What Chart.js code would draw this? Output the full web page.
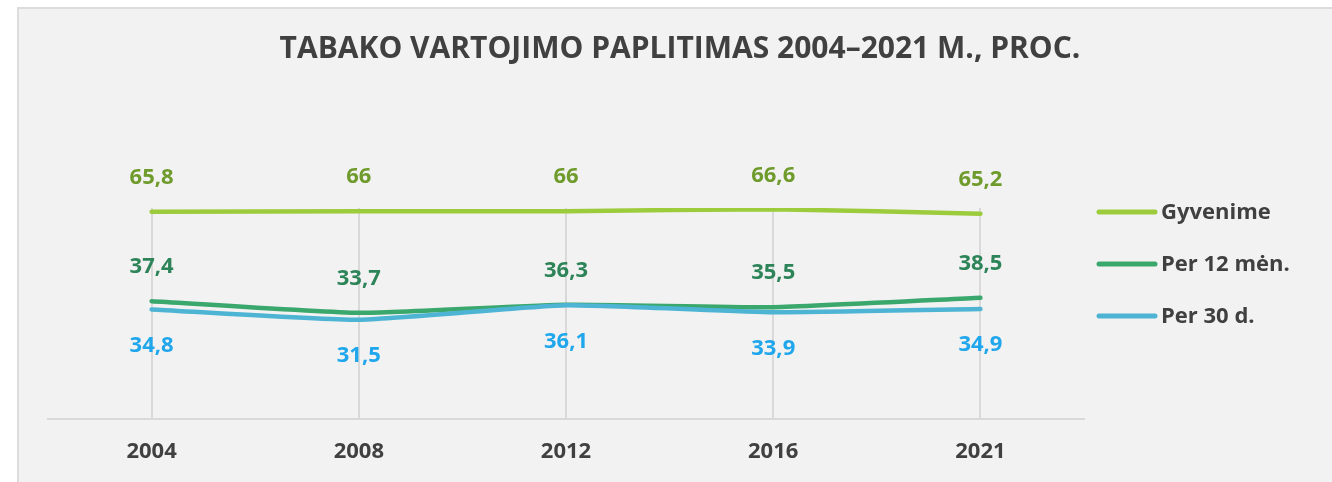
<!DOCTYPE html>
<html lang="lt">
<head>
<meta charset="utf-8">
<title>Tabako vartojimo paplitimas</title>
<script src="https://cdn.jsdelivr.net/npm/chart.js@4/dist/chart.umd.min.js"></script>
<style>
  html, body { margin: 0; padding: 0; background: #ffffff; overflow: hidden; }
  .frame {
    position: absolute; left: 17px; top: 7px; width: 1400px; height: 520px;
    background: #f2f2f2; border: 2px solid #dcdcdc; box-sizing: border-box;
  }
  canvas { position: absolute; left: 0; top: 0; }
</style>
</head>
<body>
<div class="frame"></div>
<canvas id="chart" width="1332" height="482"></canvas>
<script>
// Survey years and prevalence (%) for each recall period
const years = ['2004', '2008', '2012', '2016', '2021'];
const gyvenime = [65.8, 66, 66, 66.6, 65.2];
const per12men = [37.4, 33.7, 36.3, 35.5, 38.5];
const per30d = [34.8, 31.5, 36.1, 33.9, 34.9];
const seriesNames = ['Gyvenime', 'Per 12 mėn.', 'Per 30 d.'];
const chartTitle = 'TABAKO VARTOJIMO PAPLITIMAS 2004–2021 M., PROC.';

const FONT = "'Open Sans', 'DejaVu Sans', sans-serif";
const TEXT = '#404040';

// Value labels above/below each point, lithuanian decimal comma
const valueLabels = {
  id: 'valueLabels',
  afterDatasetsDraw(chart) {
    const ctx = chart.ctx;
    ctx.save();
    ctx.font = `bold 22px ${FONT}`;
    ctx.textAlign = 'center';
    ctx.textBaseline = 'middle';
    chart.data.datasets.forEach((ds, i) => {
      const meta = chart.getDatasetMeta(i);
      ctx.fillStyle = ds.labelColor;
      meta.data.forEach((pt, j) => {
        const txt = String(ds.data[j]).replace('.', ',');
        ctx.fillText(txt, pt.x, pt.y + ds.labelShift);
      });
    });
    ctx.restore();
  }
};

// Title across the top and legend on the right-hand side
const titleAndLegend = {
  id: 'titleAndLegend',
  afterDraw(chart) {
    const ctx = chart.ctx;
    ctx.save();
    ctx.fillStyle = TEXT;
    ctx.font = `bold 30px ${FONT}`;
    ctx.textAlign = 'center';
    ctx.textBaseline = 'middle';
    ctx.fillText(chartTitle, 680, 49);

    const legendX = 1099, legendY = 212, step = 52;
    ctx.font = `bold 22px ${FONT}`;
    ctx.textAlign = 'left';
    chart.data.datasets.forEach((ds, i) => {
      const y = legendY + i * step;
      ctx.strokeStyle = ds.borderColor;
      ctx.lineWidth = 5;
      ctx.lineCap = 'round';
      ctx.beginPath();
      ctx.moveTo(legendX, y);
      ctx.lineTo(legendX + 56, y);
      ctx.stroke();
      ctx.fillStyle = TEXT;
      ctx.fillText(ds.label, legendX + 62, y + 1);
    });
    ctx.restore();
  }
};

const lineStyle = {
  borderWidth: 4.5,
  borderCapStyle: 'round',
  borderJoinStyle: 'round',
  pointRadius: 0,
  pointHoverRadius: 0,
  tension: 0.15,
  fill: false
};

new Chart(document.getElementById('chart'), {
  type: 'line',
  data: {
    labels: years,
    datasets: [
      { ...lineStyle, label: seriesNames[0], data: gyvenime, borderColor: '#9ccb3b',
        labelColor: '#6f9b2c', labelShift: -34, order: 2 },
      { ...lineStyle, label: seriesNames[1], data: per12men, borderColor: '#3aa76c',
        labelColor: '#2d8459', labelShift: -34, order: 1 },
      { ...lineStyle, label: seriesNames[2], data: per30d, borderColor: '#4db4d4',
        labelColor: '#1fa6ec', labelShift: 36, order: 0 }
    ]
  },
  options: {
    responsive: false,
    animation: false,
    devicePixelRatio: 1,
    layout: { padding: { top: 208, left: 48, right: 248, bottom: 0 } },
    plugins: {
      legend: { display: false },
      title: { display: false },
      tooltip: { enabled: false }
    },
    scales: {
      x: {
        offset: true,
        afterFit(scale) { scale.height = 63; },
        grid: { offset: false, color: '#d9d9d9', lineWidth: 2, drawTicks: false },
        border: { display: true, color: '#d9d9d9', width: 2 },
        ticks: { color: TEXT, font: { family: FONT, size: 22, weight: 'bold' }, padding: 20 }
      },
      y: { display: false, min: 0, max: 67 }
    }
  },
  plugins: [valueLabels, titleAndLegend]
});
</script>
</body>
</html>
